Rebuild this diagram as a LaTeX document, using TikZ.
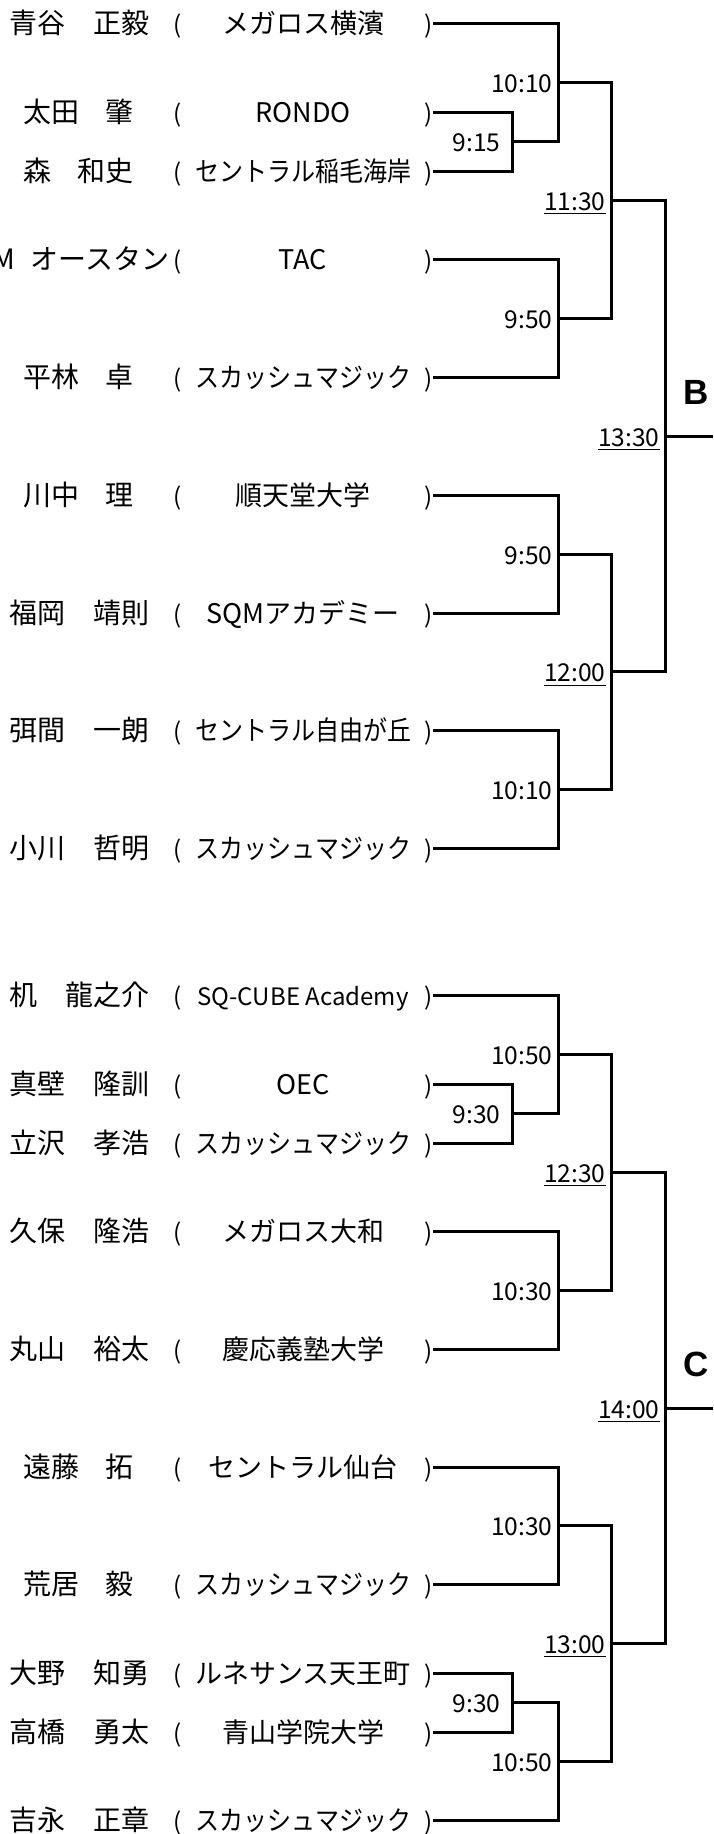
\documentclass[tikz,border=0pt]{standalone}
\usepackage{fontspec}
\usepackage{graphicx}
\setmainfont{Noto Sans CJK JP}
\newfontfamily\grpfont{Liberation Sans}
\usetikzlibrary{positioning}

\newsavebox\clubbox
\newcommand{\fitclub}[1]{\sbox\clubbox{#1}\ifdim\wd\clubbox>108pt\resizebox{108pt}{\height}{\usebox\clubbox}\else\usebox\clubbox\fi}
\newcommand{\club}[1]{\makebox[130pt]{{\fontsize{12pt}{13pt}\selectfont(}\hfill\fitclub{#1}\hfill{\fontsize{12pt}{13pt}\selectfont)}}}
\newcommand{\longnm}[2]{\makebox[70pt]{#1\hfill#2}}
\newcommand{\shortnm}[2]{\makebox[55pt]{#1\hfill#2}}

\tikzset{
  link/.style={line width=1.5pt},
  nm/.style={inner sep=0pt, text height=11pt, text depth=1pt, font=\fontsize{14pt}{16pt}\selectfont},
  cl/.style={inner sep=0pt, text height=11pt, text depth=1pt, font=\fontsize{13.5pt}{16pt}\selectfont},
  tm/.style={inner sep=0pt, text height=11pt, text depth=1pt, font=\fontsize{12.3pt}{14pt}\selectfont},
  grp/.style={inner sep=0pt, font=\grpfont\bfseries\fontsize{17.5pt}{20pt}\selectfont},
}

\begin{document}
\begin{tikzpicture}[x=0.5pt, y=-14.725pt]
\useasboundingbox (0,-0.815) rectangle (713,61.46);

% block B
\node[nm] (nB1) at (80,0) {\longnm{青谷}{正毅}};
\node[nm] (nB2) at (79,3) {\shortnm{太田}{肇}};
\node[nm] (nB3) at (79,5) {\shortnm{森}{和史}};
\node[nm, anchor=east] (nB4) at (170,8) {M\hspace{8pt}オースタン};
\node[nm] (nB5) at (79,12) {\shortnm{平林}{卓}};
\node[nm] (nB6) at (79,16) {\shortnm{川中}{理}};
\node[nm] (nB7) at (80,20) {\longnm{福岡}{靖則}};
\node[nm] (nB8) at (80,24) {\longnm{弭間}{一朗}};
\node[nm] (nB9) at (80,28) {\longnm{小川}{哲明}};

\node[cl] (cB1) at (303,0) {\club{メガロス横濱}};
\node[cl] (cB2) at (303,3) {\club{RONDO}};
\node[cl] (cB3) at (303,5) {\club{セントラル稲毛海岸}};
\node[cl] (cB4) at (303,8) {\club{TAC}};
\node[cl] (cB5) at (303,12) {\club{スカッシュマジック}};
\node[cl] (cB6) at (303,16) {\club{順天堂大学}};
\node[cl] (cB7) at (303,20) {\club{SQMアカデミー}};
\node[cl] (cB8) at (303,24) {\club{セントラル自由が丘}};
\node[cl] (cB9) at (303,28) {\club{スカッシュマジック}};

\coordinate (jB1) at (512,4);
\coordinate (jB2) at (558,2);
\coordinate (jB3) at (558,10);
\coordinate (jB4) at (611,6);
\coordinate (jB5) at (558,18);
\coordinate (jB6) at (558,26);
\coordinate (jB7) at (611,22);
\coordinate (jB8) at (665,14);
\coordinate (eB) at (713,14);

\node[tm, left=5.5pt of jB1] (tB1) {9:15};
\node[tm, left=2.5pt of jB2] (tB2) {10:10};
\node[tm, left=2.5pt of jB3] (tB3) {9:50};
\node[tm, left=2.5pt of jB4] (tB4) {\underline{11:30}};
\node[tm, left=2.5pt of jB5] (tB5) {9:50};
\node[tm, left=2.5pt of jB6] (tB6) {10:10};
\node[tm, left=2.5pt of jB7] (tB7) {\underline{12:00}};
\node[tm, left=2.5pt of jB8] (tB8) {\underline{13:30}};
\node[grp] (gB) at (696,12.5) {B};

\draw[link] (cB2.east) -| (jB1);
\draw[link] (cB3.east) -| (jB1);
\draw[link] (cB1.east) -| (jB2);
\draw[link] (jB1) -| (jB2);
\draw[link] (cB4.east) -| (jB3);
\draw[link] (cB5.east) -| (jB3);
\draw[link] (jB2) -| (jB4);
\draw[link] (jB3) -| (jB4);
\draw[link] (cB6.east) -| (jB5);
\draw[link] (cB7.east) -| (jB5);
\draw[link] (cB8.east) -| (jB6);
\draw[link] (cB9.east) -| (jB6);
\draw[link] (jB5) -| (jB7);
\draw[link] (jB6) -| (jB7);
\draw[link] (jB4) -| (jB8);
\draw[link] (jB7) -| (jB8);
\draw[link] (jB8) -- (eB);

% block C
\node[nm] (nC1) at (80,33) {\longnm{机}{龍之介}};
\node[nm] (nC2) at (80,36) {\longnm{真壁}{隆訓}};
\node[nm] (nC3) at (80,38) {\longnm{立沢}{孝浩}};
\node[nm] (nC4) at (80,41) {\longnm{久保}{隆浩}};
\node[nm] (nC5) at (80,45) {\longnm{丸山}{裕太}};
\node[nm] (nC6) at (79,49) {\shortnm{遠藤}{拓}};
\node[nm] (nC7) at (79,53) {\shortnm{荒居}{毅}};
\node[nm] (nC8) at (80,56) {\longnm{大野}{知勇}};
\node[nm] (nC9) at (80,58) {\longnm{高橋}{勇太}};
\node[nm] (nC10) at (80,61) {\longnm{吉永}{正章}};

\node[cl] (cC1) at (303,33) {\club{\fontsize{12pt}{14pt}\selectfont SQ-CUBE Academy}};
\node[cl] (cC2) at (303,36) {\club{OEC}};
\node[cl] (cC3) at (303,38) {\club{スカッシュマジック}};
\node[cl] (cC4) at (303,41) {\club{メガロス大和}};
\node[cl] (cC5) at (303,45) {\club{慶応義塾大学}};
\node[cl] (cC6) at (303,49) {\club{セントラル仙台}};
\node[cl] (cC7) at (303,53) {\club{スカッシュマジック}};
\node[cl] (cC8) at (303,56) {\club{ルネサンス天王町}};
\node[cl] (cC9) at (303,58) {\club{青山学院大学}};
\node[cl] (cC10) at (303,61) {\club{スカッシュマジック}};

\coordinate (jC1) at (512,37);
\coordinate (jC2) at (558,35);
\coordinate (jC3) at (558,43);
\coordinate (jC4) at (611,39);
\coordinate (jC5) at (558,51);
\coordinate (jC6) at (512,57);
\coordinate (jC7) at (558,59);
\coordinate (jC8) at (611,55);
\coordinate (jC9) at (665,47);
\coordinate (eC) at (713,47);

\node[tm, left=5.5pt of jC1] (tC1) {9:30};
\node[tm, left=2.5pt of jC2] (tC2) {10:50};
\node[tm, left=2.5pt of jC3] (tC3) {10:30};
\node[tm, left=2.5pt of jC4] (tC4) {\underline{12:30}};
\node[tm, left=2.5pt of jC5] (tC5) {10:30};
\node[tm, left=5.5pt of jC6] (tC6) {9:30};
\node[tm, left=2.5pt of jC7] (tC7) {10:50};
\node[tm, left=2.5pt of jC8] (tC8) {\underline{13:00}};
\node[tm, left=2.5pt of jC9] (tC9) {\underline{14:00}};
\node[grp] (gC) at (696,45.5) {C};

\draw[link] (cC2.east) -| (jC1);
\draw[link] (cC3.east) -| (jC1);
\draw[link] (cC1.east) -| (jC2);
\draw[link] (jC1) -| (jC2);
\draw[link] (cC4.east) -| (jC3);
\draw[link] (cC5.east) -| (jC3);
\draw[link] (jC2) -| (jC4);
\draw[link] (jC3) -| (jC4);
\draw[link] (cC6.east) -| (jC5);
\draw[link] (cC7.east) -| (jC5);
\draw[link] (cC8.east) -| (jC6);
\draw[link] (cC9.east) -| (jC6);
\draw[link] (jC6) -| (jC7);
\draw[link] (cC10.east) -| (jC7);
\draw[link] (jC5) -| (jC8);
\draw[link] (jC7) -| (jC8);
\draw[link] (jC4) -| (jC9);
\draw[link] (jC8) -| (jC9);
\draw[link] (jC9) -- (eC);
\end{tikzpicture}
\end{document}
